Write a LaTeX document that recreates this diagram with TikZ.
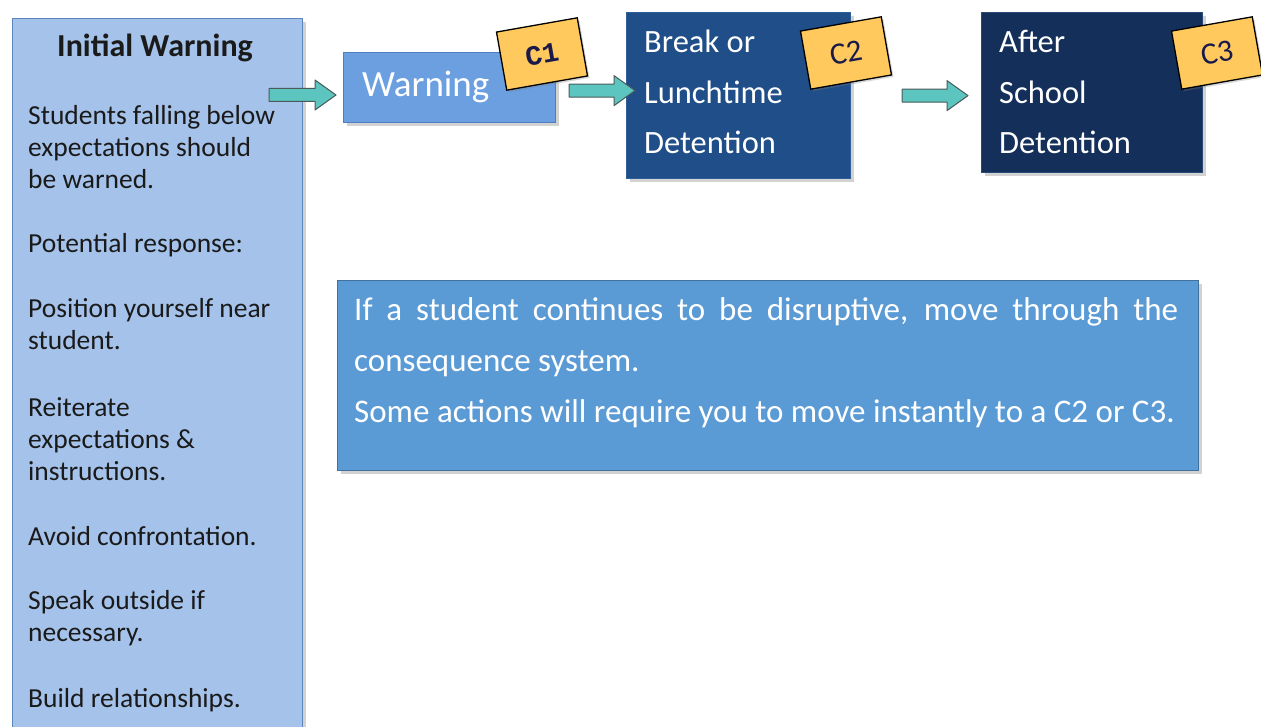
\documentclass[tikz,border=0pt]{standalone}
\usepackage{fontspec}
\setmainfont{Carlito}
\newfontfamily\tagmono{Liberation Mono}
\usetikzlibrary{calc,shadows}
\definecolor{panelfill}{HTML}{A4C2EA}
\definecolor{paneldraw}{HTML}{5B86BC}
\definecolor{warnfill}{HTML}{6B9FE0}
\definecolor{warndraw}{HTML}{4F7EC0}
\definecolor{ctwofill}{HTML}{1F4E88}
\definecolor{ctwodraw}{HTML}{2F5E98}
\definecolor{cthreefill}{HTML}{14305A}
\definecolor{cthreedraw}{HTML}{2A4A78}
\definecolor{infofill}{HTML}{5B9BD5}
\definecolor{infodraw}{HTML}{41719C}
\definecolor{tagfill}{HTML}{FFC95E}
\definecolor{tagtext}{HTML}{1A1A4A}
\definecolor{arrfill}{HTML}{5CC5BF}
\definecolor{arrdraw}{HTML}{4A5A5A}
\definecolor{darktext}{HTML}{1A1A1A}
\tikzset{
  shad/.style={drop shadow={shadow xshift=3pt,shadow yshift=-3pt,opacity=0.35}},
  box/.style={rectangle,draw,line width=1.2pt,shad,inner sep=0pt,anchor=north west},
  tagbox/.style={rectangle,draw=black,line width=1.3pt,fill=tagfill,minimum width=82pt,minimum height=59pt,rotate=10,
     text=tagtext,drop shadow={shadow xshift=2pt,shadow yshift=-2pt,opacity=0.3}},
  tagsans/.style={font=\fontsize{31}{31}\selectfont},
  tagserif/.style={font=\fontsize{28}{28}\selectfont\tagmono\bfseries},
  arrowsty/.style={fill=arrfill,draw=arrdraw,line width=1pt,line join=round},
  lefttext/.style={anchor=base west,inner sep=0pt,text=darktext,font=\fontsize{27.5}{32}\selectfont},
  boxtext/.style={anchor=base west,inner sep=0pt,text=white,align=left,font=\fontsize{32.5}{50.5}\selectfont}
}
\newcommand\blockarrow[2]{%
  \path[arrowsty] let \p1=(#1), \p2=(#2) in
   (\x1,\y1+6.5pt) -- (\x2-21pt,\y1+6.5pt) -- (\x2-21pt,\y1+15pt) -- (\x2,\y1)
   -- (\x2-21pt,\y1-15pt) -- (\x2-21pt,\y1-6.5pt) -- (\x1,\y1-6.5pt) -- cycle;}
\begin{document}
\begin{tikzpicture}[x=1pt,y=-1pt]
\useasboundingbox (0,0) rectangle (1261,727);
\clip (0,0) rectangle (1261,727);
\fill[white] (0,0) rectangle (1261,727);
% left panel
\node[box,draw=paneldraw,fill=panelfill,minimum width=290pt,minimum height=740pt] (panel) at (12,18) {};
\node[anchor=base,inner sep=0pt,text=darktext,font=\fontsize{32}{32}\selectfont\bfseries] (title) at (155,57) {Initial Warning};
\foreach \y/\t [count=\i] in {125/Students falling below,157/expectations should,189/be warned.,
  253/Potential response:,317/Position yourself near,349/student.,416/Reiterate,448/expectations \&,
  480/instructions.,545/Avoid confrontation.,609/Speak outside if,641/necessary.,707/Build relationships.}
  \node[lefttext] (lp\i) at (28,\y) {\t};
% boxes
\node[box,draw=warndraw,fill=warnfill,minimum width=212pt,minimum height=70pt] (warn) at (343,52) {};
\node[anchor=base west,inner sep=0pt,text=white,font=\fontsize{37}{40}\selectfont] (warntext) at (362,97) {Warning};
\node[box,draw=ctwodraw,fill=ctwofill,minimum width=224pt,minimum height=166pt] (c2) at (626,12) {};
\node[boxtext] (c2text) at (644,154) {Break or\\Lunchtime\\Detention};
\node[box,draw=cthreedraw,fill=cthreefill,minimum width=221pt,minimum height=160pt] (c3) at (981,12) {};
\node[boxtext] (c3text) at (999,154) {After\\School\\Detention};
% info box
\node[box,draw=infodraw,fill=infofill,minimum width=861pt,minimum height=190pt] (info) at (337,280) {};
\node[anchor=base west,inner sep=0pt,text=white,text width=824pt,align=justify,
  font=\fontsize{33}{51}\selectfont] (infotext) at (354,321)
  {If a student continues to be disruptive, move through the\linebreak consequence system.\\
   Some actions will require you to move instantly to a C2 or C3.};
% tags
\node[tagbox,tagserif] (t1) at (542,54) {C1};
\node[tagbox,tagsans] (t2) at (846,53) {C2};
\node[tagbox,tagsans] (t3) at (1217,53) {C3};
% arrows
\coordinate (a1s) at ($(panel.north east)+(-34,77)$);
\coordinate (a1e) at ($(warn.west)+(-7,8)$);
\coordinate (a2s) at ($(warn.east)+(13,3)$);
\coordinate (a2e) at ($(c2.north west)+(9,78)$);
\coordinate (a3s) at ($(c2.east)+(51,0)$);
\coordinate (a3e) at ($(c3.west)+(-13,3)$);
\blockarrow{a1s}{a1e}
\blockarrow{a2s}{a2e}
\blockarrow{a3s}{a3e}
\end{tikzpicture}
\end{document}
